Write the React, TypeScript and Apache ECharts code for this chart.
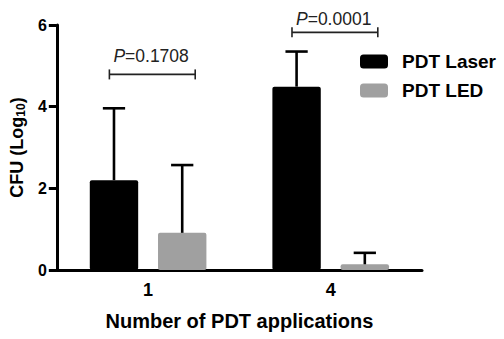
import React, { useEffect, useRef } from "react";
import * as echarts from "echarts";

const categories = ["1", "4"];
const seriesNames = ["PDT Laser", "PDT LED"];
const laserMeans = [2.2, 4.49];
const laserSD = [1.76, 0.86];
const ledMeans = [0.91, 0.14];
const ledSD = [1.66, 0.28];
const bracketY = [4.79, 5.82];
const pLabelY = [5.23, 6.15];
const pValues = ["0.1708", "0.0001"];
const yTicks = [0, 2, 4, 6];

const FONT = "'Liberation Sans', Arial, sans-serif";
const BAR_W = 0.265;
const BAR_GAP = 0.41;

function errorSeries(means: number[], sds: number[], sign: number) {
  return {
    type: "custom",
    clip: false,
    z: 5,
    data: means.map((m, i) => [i, m, sds[i]]),
    encode: { x: 0, y: 1 },
    renderItem: (params: any, api: any) => {
      const cat = api.value(0);
      const v = api.value(1);
      const sd = api.value(2);
      const band = api.size([1, 0])[0];
      const bw = band * BAR_W;
      const off = ((bw + bw * BAR_GAP) / 2) * sign;
      const p0 = api.coord([cat, v]);
      const p1 = api.coord([cat, v + sd]);
      const x = p0[0] + off;
      const half = bw * 0.23;
      const st = { stroke: "#000", lineWidth: 2.6 };
      return {
        type: "group",
        children: [
          { type: "line", shape: { x1: x, y1: p0[1], x2: x, y2: p1[1] }, style: st },
          { type: "line", shape: { x1: x - half, y1: p1[1], x2: x + half, y2: p1[1] }, style: st },
        ],
      };
    },
  };
}

export default function App() {
  const ref = useRef<HTMLDivElement>(null);
  useEffect(() => {
    if (!ref.current) return;
    const chart = echarts.init(ref.current, null, { renderer: "svg" });
    chart.setOption({
      animation: false,
      backgroundColor: "#fff",
      textStyle: { fontFamily: FONT },
      grid: { left: 54, right: 82, top: 25, bottom: 69, containLabel: false },
      legend: {
        orient: "vertical",
        left: 360,
        top: 52,
        padding: 0,
        itemWidth: 28,
        itemHeight: 14,
        itemGap: 10,
        icon: "roundRect",
        data: seriesNames,
        textStyle: {
          fontFamily: FONT,
          fontSize: 19,
          fontWeight: "bold",
          color: "#000",
          lineHeight: 19,
          padding: [0, 0, 0, 9],
        },
      },
      xAxis: {
        type: "category",
        data: categories,
        name: "Number of PDT applications",
        nameLocation: "middle",
        nameGap: 41,
        nameTextStyle: { fontFamily: FONT, fontSize: 20, fontWeight: "bold", color: "#000" },
        axisLine: { lineStyle: { color: "#000", width: 3 } },
        axisTick: { alignWithLabel: true, length: 6, lineStyle: { color: "#000", width: 3 } },
        axisLabel: { fontFamily: FONT, fontSize: 18, fontWeight: "bold", color: "#000", margin: 11 },
      },
      yAxis: {
        type: "value",
        min: 0,
        max: 6,
        interval: 2,
        name: "{a|CFU (Log}{b|10}{a|)}",
        nameLocation: "middle",
        nameGap: 27,
        nameRotate: 90,
        nameTextStyle: {
          fontFamily: FONT,
          fontSize: 18,
          fontWeight: "bold",
          color: "#000",
          rich: {
            a: { fontFamily: FONT, fontSize: 18, fontWeight: "bold", color: "#000", lineHeight: 20 },
            b: { fontFamily: FONT, fontSize: 12, fontWeight: "bold", color: "#000", padding: [8, 0, 0, 0] },
          },
        },
        axisLine: { show: true, lineStyle: { color: "#000", width: 3 } },
        axisTick: { show: true, length: 8, lineStyle: { color: "#000", width: 3 } },
        splitLine: { show: false },
        axisLabel: {
          fontFamily: FONT,
          fontSize: 16,
          fontWeight: "bold",
          color: "#000",
          margin: 10,
          formatter: (v: number) => (yTicks.includes(v) ? String(v) : ""),
        },
      },
      series: [
        {
          name: seriesNames[0],
          type: "bar",
          data: laserMeans,
          barWidth: BAR_W * 100 + "%",
          barGap: BAR_GAP * 100 + "%",
          itemStyle: { color: "#000", borderRadius: 2 },
        },
        {
          name: seriesNames[1],
          type: "bar",
          data: ledMeans,
          barWidth: BAR_W * 100 + "%",
          barGap: BAR_GAP * 100 + "%",
          itemStyle: { color: "#a0a0a0", borderRadius: 2 },
        },
        errorSeries(laserMeans, laserSD, -1),
        errorSeries(ledMeans, ledSD, 1),
        {
          type: "custom",
          clip: false,
          z: 6,
          data: bracketY.map((y, i) => [i, y, pLabelY[i]]),
          encode: { x: 0, y: 1 },
          renderItem: (params: any, api: any) => {
            const cat = api.value(0);
            const y = api.value(1);
            const ly = api.value(2);
            const band = api.size([1, 0])[0];
            const c = api.coord([cat, y]);
            const lc = api.coord([cat, ly]);
            const x1 = c[0] - band * 0.212;
            const x2 = c[0] + band * 0.258;
            const st = { stroke: "#222", lineWidth: 1.6 };
            return {
              type: "group",
              children: [
                { type: "line", shape: { x1, y1: c[1], x2, y2: c[1] }, style: st },
                { type: "line", shape: { x1, y1: c[1] - 5, x2: x1, y2: c[1] + 5 }, style: st },
                { type: "line", shape: { x1: x2, y1: c[1] - 5, x2, y2: c[1] + 5 }, style: st },
                {
                  type: "text",
                  x: c[0] + 3,
                  y: lc[1],
                  style: {
                    text: "{i|P}{n|=" + pValues[params.dataIndex] + "}",
                    align: "center",
                    verticalAlign: "middle",
                    fontFamily: FONT,
                    fontSize: 17.5,
                    fill: "#222",
                    rich: {
                      i: { fontFamily: FONT, fontSize: 17.5, fontStyle: "italic", fill: "#222", color: "#222" },
                      n: { fontFamily: FONT, fontSize: 17.5, fill: "#222", color: "#222" },
                    },
                  },
                },
              ],
            };
          },
        },
      ],
    });
    return () => chart.dispose();
  }, []);
  return (
    <div
      ref={ref}
      style={{ position: "fixed", left: 0, top: 0, width: 504, height: 339, background: "#fff" }}
    />
  );
}
